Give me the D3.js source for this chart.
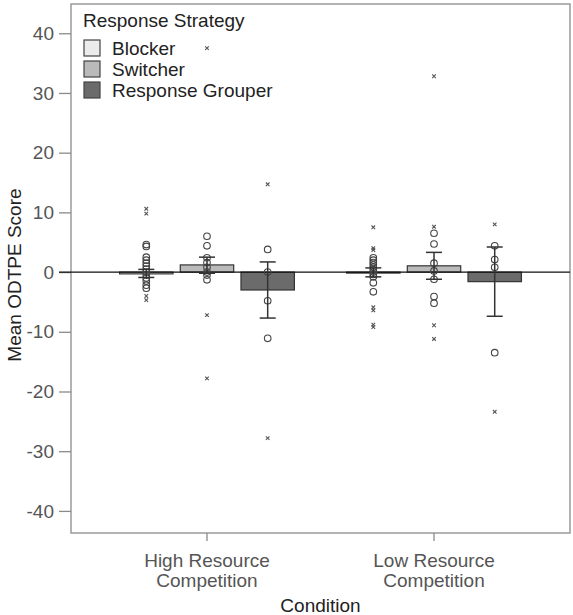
<!DOCTYPE html>
<meta charset="utf-8">
<style>
  body { margin: 0; background: #fff; }
  text { font-family: Arial, "Liberation Sans", sans-serif; }
  .tick text { fill: #555; font-size: 19px; }
</style>
<svg width="573" height="615"></svg>
<script src="https://d3js.org/d3.v7.min.js"></script>
<script>

  var conditions = ["High", "Low"];
  var conditionLabels = [["High Resource", "Competition"], ["Low Resource", "Competition"]];
  var strategies = ["Blocker", "Switcher", "Response Grouper"];
  var fills = ["#ececec", "#bababa", "#6b6b6b"];
  var yTicks = [-40, -30, -20, -10, 0, 10, 20, 30, 40];

  // mean and CI per strategy, [high, low]
  var meanVals  = [[-0.3, -0.1], [1.2, 1.05], [-3.0, -1.6]];
  var ciUpper   = [[0.45, 0.7], [2.5, 3.3], [1.7, 4.2]];
  var ciLower   = [[-0.9, -0.8], [-0.2, -1.2], [-7.7, -7.4]];

  // individual scores: circles (outliers) and crosses (extremes)
  var circlesHigh = [
    [4.6, 4.3, 2.5, 2.0, 1.5, 1.0, 0.5, 0, -0.5, -1.0, -1.5, -2.2, -2.7],
    [6.0, 4.4, 2.4, 1.6, 0.8, 0, -0.5, -1.3],
    [3.8, 0, -4.8, -11.1]
  ];
  var crossesHigh = [
    [10.6, 9.8, -4.0, -4.7],
    [37.5, -7.2, -17.8],
    [14.7, -27.8]
  ];
  var circlesLow = [
    [2.4, 2.0, 1.6, 1.2, 0.8, 0.4, 0, -0.4, -0.8, -1.8, -3.3],
    [6.5, 4.7, 1.5, 0.2, -1.2, -4.1, -5.2],
    [4.4, 2.1, 0.8, -13.5]
  ];
  var crossesLow = [
    [7.5, 4.0, 3.7, -5.9, -6.4, -8.8, -9.2],
    [32.8, 7.6, -8.9, -11.2],
    [8.0, -23.4]
  ];

  var svg = d3.select("svg"),
      margin = {top: 4, right: 3, bottom: 82, left: 71},
      width = +svg.attr("width"),
      height = +svg.attr("height");

  var x0 = d3.scaleBand()
      .domain(conditions)
      .range([margin.left, width - margin.right])
      .paddingInner(0.23)
      .paddingOuter(0.214);

  var x1 = d3.scaleBand()
      .domain(strategies)
      .range([0, x0.bandwidth()])
      .paddingInner(0.12);

  var y = d3.scaleLinear()
      .domain([-43.7, 44.9])
      .range([height - margin.bottom, margin.top]);

  // cells
  var cells = [];
  conditions.forEach(function(c, ci) {
    strategies.forEach(function(s, si) {
      cells.push({
        cond: c, strat: s, si: si,
        mean: meanVals[si][ci], hi: ciUpper[si][ci], lo: ciLower[si][ci],
        circles: (ci === 0 ? circlesHigh : circlesLow)[si],
        crosses: (ci === 0 ? crossesHigh : crossesLow)[si]
      });
    });
  });

  function cx(d) { return x0(d.cond) + x1(d.strat) + x1.bandwidth() / 2; }

  // frame
  svg.append("rect")
      .attr("x", margin.left).attr("y", margin.top)
      .attr("width", width - margin.right - margin.left)
      .attr("height", height - margin.bottom - margin.top)
      .attr("fill", "none").attr("stroke", "#9a9a9a").attr("stroke-width", 1.5);

  // y axis
  var yAxis = svg.append("g")
      .attr("transform", "translate(" + margin.left + ",0)")
      .call(d3.axisLeft(y).tickValues(yTicks).tickSize(12).tickPadding(5)
        .tickFormat(function(d) { return String(d); }));
  yAxis.select(".domain").remove();
  yAxis.selectAll(".tick line").attr("stroke", "#8a8a8a").attr("stroke-width", 1.3);

  // x axis
  var xAxis = svg.append("g")
      .attr("transform", "translate(0," + (height - margin.bottom) + ")")
      .call(d3.axisBottom(x0).tickSize(8).tickFormat(""));
  xAxis.select(".domain").remove();
  xAxis.selectAll(".tick line").attr("stroke", "#8a8a8a").attr("stroke-width", 1.3);
  xAxis.selectAll(".tick text").remove();
  xAxis.selectAll(".tick").each(function(d, i) {
    var t = d3.select(this).append("text")
        .attr("fill", "#555").attr("font-size", 19).attr("text-anchor", "middle");
    conditionLabels[i].forEach(function(line, j) {
      t.append("tspan").attr("x", 0).attr("y", 34 + j * 19.5).text(line);
    });
  });

  // bars
  svg.append("g").selectAll("rect")
      .data(cells)
      .enter().append("rect")
      .attr("x", function(d) { return x0(d.cond) + x1(d.strat); })
      .attr("width", x1.bandwidth())
      .attr("y", function(d) { return y(Math.max(0, d.mean)); })
      .attr("height", function(d) { return Math.max(1, Math.abs(y(d.mean) - y(0))); })
      .attr("fill", function(d) { return fills[d.si]; })
      .attr("stroke", "#333").attr("stroke-width", 1.2);

  // zero line
  svg.append("line")
      .attr("x1", margin.left - 12).attr("x2", width - margin.right)
      .attr("y1", y(0)).attr("y2", y(0))
      .attr("stroke", "#111").attr("stroke-width", 1.2);

  // individual points
  var pts = svg.append("g");
  cells.forEach(function(d) {
    var px = cx(d);
    pts.selectAll(null).data(d.circles).enter().append("circle")
        .attr("cx", px).attr("cy", function(v) { return y(v); })
        .attr("r", 3.3).attr("fill", "none")
        .attr("stroke", "#444").attr("stroke-width", 1.1);
    pts.selectAll(null).data(d.crosses).enter().append("path")
        .attr("d", function(v) {
          var yy = y(v), s = 1.8;
          return "M" + (px - s) + "," + (yy - s) + "L" + (px + s) + "," + (yy + s) +
                 "M" + (px - s) + "," + (yy + s) + "L" + (px + s) + "," + (yy - s);
        })
        .attr("stroke", "#555").attr("stroke-width", 1.1);
  });

  // error bars
  var eb = svg.append("g").attr("stroke", "#333").attr("stroke-width", 1.5);
  cells.forEach(function(d) {
    var px = cx(d), cw = 8;
    eb.append("line").attr("x1", px).attr("x2", px).attr("y1", y(d.hi)).attr("y2", y(d.lo));
    eb.append("line").attr("x1", px - cw).attr("x2", px + cw).attr("y1", y(d.hi)).attr("y2", y(d.hi));
    eb.append("line").attr("x1", px - cw).attr("x2", px + cw).attr("y1", y(d.lo)).attr("y2", y(d.lo));
  });

  // axis titles
  svg.append("text")
      .attr("transform", "translate(21," + y(-0.5) + ") rotate(-90)")
      .attr("text-anchor", "middle").attr("font-size", 19).attr("fill", "#222")
      .text("Mean ODTPE Score");

  svg.append("text")
      .attr("x", (x0("High") + x0("Low") + x0.bandwidth()) / 2).attr("y", 612)
      .attr("text-anchor", "middle").attr("font-size", 19).attr("fill", "#222")
      .text("Condition");

  // legend
  var legend = svg.append("g").attr("transform", "translate(83,0)");
  legend.append("text").attr("x", 0).attr("y", 27)
      .attr("font-size", 19).attr("fill", "#222").text("Response Strategy");
  var li = legend.selectAll("g.item").data(strategies).enter().append("g")
      .attr("transform", function(d, i) { return "translate(1," + (40 + i * 21) + ")"; });
  li.append("rect").attr("width", 16).attr("height", 16)
      .attr("fill", function(d, i) { return fills[i]; })
      .attr("stroke", "#444").attr("stroke-width", 1.2);
  li.append("text").attr("x", 28).attr("y", 15)
      .attr("font-size", 19).attr("fill", "#222").text(function(d) { return d; });

</script>
